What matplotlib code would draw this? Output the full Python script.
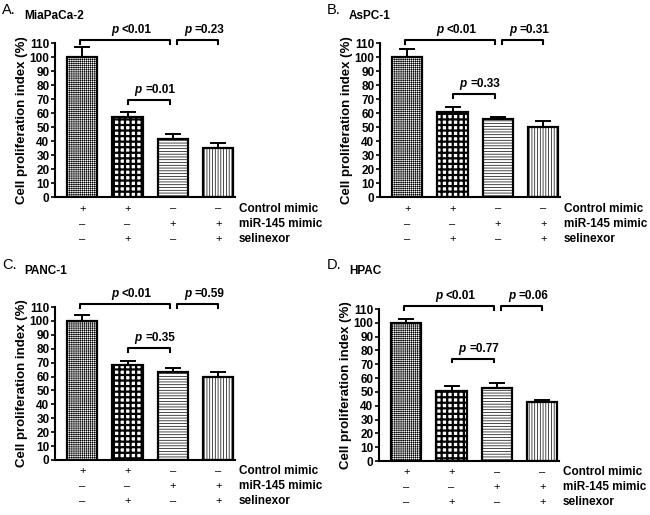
import numpy as np
import matplotlib
matplotlib.use('Agg')
import matplotlib.pyplot as plt
import matplotlib.transforms as mtransforms

plt.rcParams['font.family'] = ['Liberation Sans', 'DejaVu Sans']

# Data
panel_letters = ['A.', 'B.', 'C.', 'D.']
cell_lines = ['MiaPaCa-2', 'AsPC-1', 'PANC-1', 'HPAC']
means = {
    'MiaPaCa-2': [100, 57, 41.5, 35],
    'AsPC-1': [100, 60.5, 55.5, 50],
    'PANC-1': [100, 68, 63, 60],
    'HPAC': [100, 51, 52.5, 43],
}
errors = {
    'MiaPaCa-2': [7, 3.5, 3.5, 3.5],
    'AsPC-1': [6, 3.5, 2, 4],
    'PANC-1': [4.5, 3.5, 3, 3.5],
    'HPAC': [3, 3, 4, 1],
}
p_top_left = ['<0.01', '<0.01', '<0.01', '<0.01']
p_top_right = ['=0.23', '=0.31', '=0.59', '=0.06']
p_mid = ['=0.01', '=0.33', '=0.35', '=0.77']
mid_bracket_y = [69, 73.5, 80.5, 74]
row_names = ['Control mimic', 'miR-145 mimic', 'selinexor']
row_signs = [['+', '+', '–', '–'],
             ['–', '–', '+', '+'],
             ['–', '+', '–', '+']]
hatches = ['++++++++', '+++', '------', '||||||']
hatch_lw = [0.4, 1.6, 0.5, 0.5]
yticks = np.arange(0, 111, 10)

# axes boxes in pixels: left, top, right, bottom
boxes = [(55, 43, 235, 197), (380, 43, 560, 197),
         (55, 307, 235, 460), (379, 309, 559, 461)]
W, H = 650, 515

fig = plt.figure(figsize=(6.5, 5.15), dpi=100)


def bracket(ax, x1, x2, y, label):
    ax.plot([x1, x1, x2, x2], [y - 2.5, y, y, y - 2.5], color='black', lw=1.5,
            clip_on=False, solid_joinstyle='round')
    xc = (x1 + x2) / 2
    ax.text(xc - 0.15, y + 3, 'p', ha='right', va='bottom', fontsize=8.5,
            fontweight='bold', style='italic', clip_on=False)
    ax.text(xc - 0.07, y + 3, label, ha='left', va='bottom', fontsize=8.5,
            fontweight='bold', clip_on=False)


for i, name in enumerate(cell_lines):
    l, t, r, b = boxes[i]
    ax = fig.add_axes([l / W, 1 - b / H, (r - l) / W, (b - t) / H])
    x = np.arange(4)
    for k in range(4):
        with plt.rc_context({'hatch.linewidth': hatch_lw[k]}):
            bar = ax.bar(x[k], means[name][k], width=0.667, color='white',
                         edgecolor='black', linewidth=1.6, hatch=hatches[k],
                         zorder=2)[0]
            if hasattr(bar, 'set_hatch_linewidth'):
                bar.set_hatch_linewidth(hatch_lw[k])
    ax.errorbar(x, means[name], yerr=[np.zeros(4), errors[name]], fmt='none',
                ecolor='black', elinewidth=1.4, capsize=5.5, capthick=1.4, zorder=1)

    ax.set_xlim(-0.6, 3.37)
    ax.set_ylim(0, 110)
    ax.set_yticks(yticks)
    ax.set_xticks([])
    for s in ['top', 'right']:
        ax.spines[s].set_visible(False)
    for s in ['left', 'bottom']:
        ax.spines[s].set_linewidth(1.5)
    ax.tick_params(axis='y', length=3, width=1.2, pad=1, labelsize=8.5)
    for lab in ax.get_yticklabels():
        lab.set_fontweight('bold')
    ax.set_ylabel('Cell proliferation index (%)', fontsize=9.5, fontweight='bold',
                  labelpad=1)

    bracket(ax, -0.05, 1.93, 112, p_top_left[i])
    bracket(ax, 2.1, 3.0, 112, p_top_right[i])
    bracket(ax, 1.0, 1.93, mid_bracket_y[i], p_mid[i])

    trans = mtransforms.blended_transform_factory(ax.transData, ax.transAxes)
    for j, (rname, signs) in enumerate(zip(row_names, row_signs)):
        yy = -0.075 - 0.098 * j
        for k, sgn in enumerate(signs):
            ax.text(k, yy, sgn, transform=trans, ha='center', va='center',
                    fontsize=8, clip_on=False)
        ax.text(3.45, yy, rname, transform=trans, ha='left', va='center',
                fontsize=8.5, fontweight='bold', clip_on=False)

    # panel letter and title
    ox = 0 if i % 2 == 0 else 325
    oy = 0 if i < 2 else 255
    fig.text((ox + 2) / W, 1 - (oy + 10) / H, panel_letters[i], fontsize=10.5,
             ha='left', va='center')
    fig.text((ox + 24) / W, 1 - (oy + 16) / H, name, fontsize=8.5,
             fontweight='bold', ha='left', va='center')

fig.savefig('out.png', dpi=100)
